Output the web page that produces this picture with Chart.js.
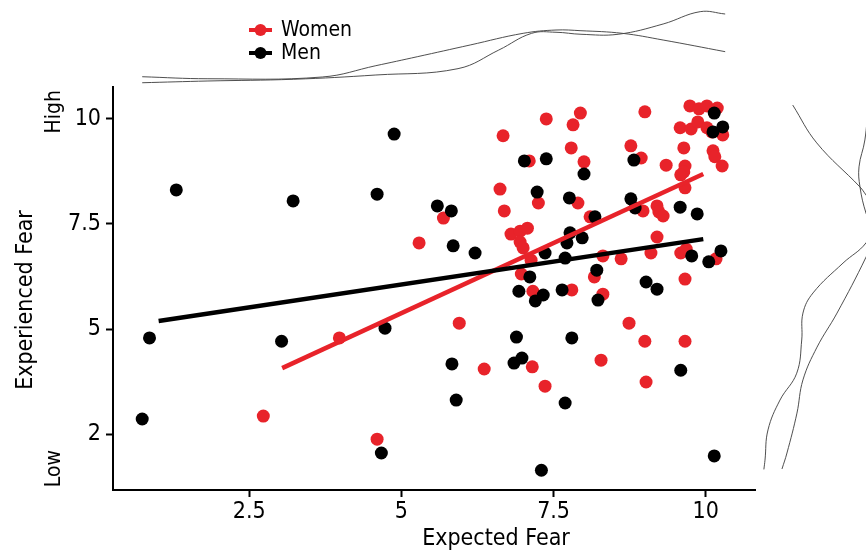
<!DOCTYPE html>
<html><head><meta charset="utf-8">
<script src="https://cdn.jsdelivr.net/npm/chart.js@4.4.1/dist/chart.umd.min.js"></script>
<style>html,body{margin:0;padding:0;background:#fff;}#wrap{width:866px;height:557px;position:relative;}</style>
</head><body><div id="wrap"><canvas id="c"></canvas></div>
<script>
const FONT = "'DejaVu Sans Condensed','DejaVu Sans',sans-serif";
const RED = '#E8232A';
const BLACK = '#000000';
const DENS = 'rgba(70,70,70,0.95)';

// Women (red)
const womenX = [2.73,3.98,4.60,5.29,5.69,5.95,6.36,6.62,6.67,6.69,6.80,6.95,7.07,6.95,7.00,7.13,6.97,7.10,7.25,7.38,7.16,7.15,7.36,7.79,7.82,7.94,8.00,7.90,8.10,7.80,8.17,8.31,8.31,8.28,8.61,8.74,8.77,8.94,8.97,9.00,9.00,9.02,9.10,9.20,9.23,9.30,9.20,9.35,9.58,9.64,9.66,9.64,9.59,9.66,9.59,9.68,9.66,9.66,9.74,9.89,10.02,10.19,9.76,9.87,10.02,10.10,10.28,10.12,10.15,10.27,10.17];
const womenY = [2.93,4.79,2.38,7.05,7.64,5.14,4.05,8.33,9.60,7.81,7.26,7.33,7.40,7.07,6.93,6.64,6.31,9.00,8.00,10.00,5.90,4.10,3.64,9.31,9.86,10.14,8.98,8.00,7.67,5.93,6.24,6.74,5.83,4.26,6.67,5.14,9.36,9.07,7.81,10.17,4.71,3.74,6.81,7.93,7.79,7.69,7.19,8.90,9.79,9.31,8.88,8.74,8.67,8.36,6.81,6.90,6.19,4.71,10.31,10.24,10.31,10.26,9.76,9.93,9.79,9.69,9.62,9.24,9.10,8.88,6.67];
// Men (black)
const menX = [0.74,0.86,1.30,3.03,3.22,4.60,4.73,4.67,4.88,5.59,5.82,5.85,5.83,5.90,6.21,6.89,6.85,6.98,6.93,7.02,7.11,7.20,7.33,7.23,7.30,7.36,7.38,7.64,7.69,7.69,7.72,7.77,7.97,7.76,7.80,8.00,8.18,8.21,8.23,8.82,8.77,8.84,9.02,9.20,9.58,9.59,9.77,9.86,10.05,10.14,10.12,10.14,10.25,10.28];
const menY = [2.86,4.79,8.31,4.71,8.05,8.21,5.02,2.05,9.64,7.93,7.81,6.98,4.17,3.31,6.81,4.81,4.19,4.31,5.90,9.00,6.24,5.67,5.81,8.26,1.64,6.81,9.05,5.93,6.69,3.24,7.05,7.29,7.17,8.12,4.79,8.69,7.67,6.40,5.69,9.02,8.10,7.88,6.12,5.95,7.90,4.02,6.74,7.74,6.60,10.14,9.69,1.98,6.86,9.81];

// Fit lines (end points)
const womenFitX = [3.04, 9.96];
const womenFitY = [4.07, 8.69];
const menFitX = [1.01, 9.96];
const menFitY = [5.19, 7.14];

// Marginal densities (top: along Expected Fear)
const topDensAX = [0.74,1.82,3.70,4.58,5.26,6.13,7.00,7.54,7.95,8.63,9.30,10.32];
const topDensAV = [0.118,0.095,0.115,0.245,0.348,0.483,0.617,0.655,0.647,0.617,0.540,0.406];
const topDensBX = [0.74,1.82,3.23,4.58,5.93,6.60,7.14,7.54,7.95,8.56,9.30,9.91,10.32];
const topDensBV = [0.049,0.069,0.089,0.138,0.211,0.425,0.617,0.629,0.606,0.606,0.724,0.866,0.839];
// Marginal densities (right: along Experienced Fear)
const rightDensAY = [10.33,9.43,8.38,8.19,7.71,7.05,6.57,5.86,5.38,4.74,3.95,3.31,2.60,1.88,1.66];
const rightDensAV = [0.34,0.556,0.946,1.0,1.126,1.0,0.793,0.523,0.432,0.421,0.376,0.225,0.117,0.09,0.08];
const rightDensBY = [10.33,9.50,8.86,8.38,7.76,7.24,6.71,5.38,4.57,3.79,3.00,2.05,1.67];
const rightDensBV = [1.02,0.99,0.937,0.946,1.0,1.08,1.0,0.739,0.559,0.432,0.378,0.288,0.243];

// Ticks and axis texts
const xTickValues = [2.5, 5, 7.5, 10];
const xTickLabels = ['2.5', '5', '7.5', '10'];
const yTickValues = [2.5, 5, 7.5, 10];
const yTickLabels = ['2', '5', '7.5', '10'];
const yEndValues = [10.69, 2.12];
const yEndLabels = ['High', 'Low'];
const xTitle = 'Expected Fear';
const yTitle = 'Experienced Fear';

const pts = (xs, ys) => xs.map((x, i) => ({x: x, y: ys[i]}));

Chart.defaults.font.family = FONT;
Chart.defaults.color = '#000';

const legendPlugin = {
  id: 'customLegend',
  afterDraw(chart) {
    const ctx = chart.ctx;
    const items = chart.data.datasets.filter(d => d.inLegend);
    items.sort((a, b) => a.legendRank - b.legendRank);
    ctx.save();
    items.forEach((d, i) => {
      const y = 30 + i * 23;
      ctx.strokeStyle = d.backgroundColor;
      ctx.lineWidth = 4;
      ctx.beginPath(); ctx.moveTo(249, y); ctx.lineTo(272, y); ctx.stroke();
      ctx.fillStyle = d.backgroundColor;
      ctx.beginPath(); ctx.arc(260.5, y, 6, 0, Math.PI * 2); ctx.fill();
      ctx.fillStyle = '#000';
      ctx.font = '21px ' + FONT;
      ctx.textBaseline = 'middle';
      ctx.textAlign = 'left';
      ctx.fillText(d.label, 281, y + 1);
    });
    ctx.restore();
  }
};

const axisTitlePlugin = {
  id: 'axisTitles',
  afterDraw(chart) {
    const ctx = chart.ctx;
    ctx.save();
    ctx.fillStyle = '#000';
    ctx.font = '23px ' + FONT;
    ctx.textAlign = 'center';
    ctx.textBaseline = 'middle';
    ctx.fillText(xTitle, 496, 539);
    ctx.translate(26, 300);
    ctx.rotate(-Math.PI / 2);
    ctx.fillText(yTitle, 0, 0);
    ctx.restore();
  }
};

const densLine = (data, xAxisID, yAxisID) => ({
  data: data, showLine: true, pointRadius: 0, borderColor: DENS, borderWidth: 1,
  backgroundColor: DENS, tension: 0.4, clip: false, xAxisID: xAxisID, yAxisID: yAxisID, order: 5
});

new Chart(document.getElementById('c'), {
  type: 'scatter',
  data: {
    datasets: [
      {label: 'Men fit', data: pts(menFitX, menFitY), showLine: true, pointRadius: 0, borderColor: BLACK, backgroundColor: BLACK, borderWidth: 4.5, order: 0},
      {label: 'Women fit', data: pts(womenFitX, womenFitY), showLine: true, pointRadius: 0, borderColor: RED, backgroundColor: RED, borderWidth: 4.5, order: 1},
      {label: 'Men', data: pts(menX, menY), pointRadius: 6.5, pointBorderWidth: 0, borderWidth: 0, backgroundColor: BLACK, borderColor: BLACK, order: 2, inLegend: true, legendRank: 1},
      {label: 'Women', data: pts(womenX, womenY), pointRadius: 6.5, pointBorderWidth: 0, borderWidth: 0, backgroundColor: RED, borderColor: RED, order: 3, inLegend: true, legendRank: 0},
      densLine(pts(topDensAX, topDensAV), 'x', 'yTop'),
      densLine(pts(topDensBX, topDensBV), 'x', 'yTop'),
      densLine(pts(rightDensAV, rightDensAY), 'xR', 'y'),
      densLine(pts(rightDensBV, rightDensBY), 'xR', 'y')
    ]
  },
  options: {
    responsive: true,
    maintainAspectRatio: false,
    animation: false,
    layout: {padding: {top: 87, right: 111, left: 0, bottom: 0}},
    plugins: {legend: {display: false}, tooltip: {enabled: false}},
    scales: {
      x: {
        type: 'linear', position: 'bottom', min: 0.26, max: 10.81, bounds: 'data', weight: 1,
        afterBuildTicks: s => { s.ticks = xTickValues.map(v => ({value: v})); },
        ticks: {callback: (v, i) => xTickLabels[i], color: '#000', font: {size: 23}, padding: 1, maxRotation: 0, autoSkip: false},
        grid: {display: true, drawOnChartArea: false, drawTicks: true, tickLength: 7, tickWidth: 2, tickColor: '#000'},
        border: {display: true, color: '#000', width: 2},
        title: {display: false},
        afterFit: s => { s.height = 67; }
      },
      xR: {type: 'linear', position: 'bottom', display: false, min: -5.784, max: 0, weight: 0},
      y: {
        type: 'linear', position: 'left', min: 1.17, max: 10.76, bounds: 'data', weight: 0,
        afterBuildTicks: s => { s.ticks = yTickValues.map(v => ({value: v})); },
        ticks: {callback: (v, i) => yTickLabels[i], color: '#000', font: {size: 23}, padding: 5, autoSkip: false},
        grid: {display: true, drawOnChartArea: false, drawTicks: true, tickLength: 7, tickWidth: 2, tickColor: '#000'},
        border: {display: true, color: '#000', width: 2},
        afterFit: s => { s.width = 47; }
      },
      yHL: {
        type: 'linear', position: 'left', min: 1.17, max: 10.76, bounds: 'data', weight: 2,
        afterBuildTicks: s => { s.ticks = yEndValues.map(v => ({value: v})); },
        ticks: {callback: (v, i) => yEndLabels[i], color: '#000', font: {size: 21}, padding: 3, autoSkip: false, minRotation: 90, maxRotation: 90, crossAlign: 'near'},
        grid: {display: false},
        border: {display: false},
        title: {display: false},
        afterFit: s => { s.width = 66; }
      },
      yTop: {type: 'linear', position: 'left', display: false, min: -4.632, max: 0, weight: 1}
    }
  },
  plugins: [legendPlugin, axisTitlePlugin]
});
</script></body></html>
